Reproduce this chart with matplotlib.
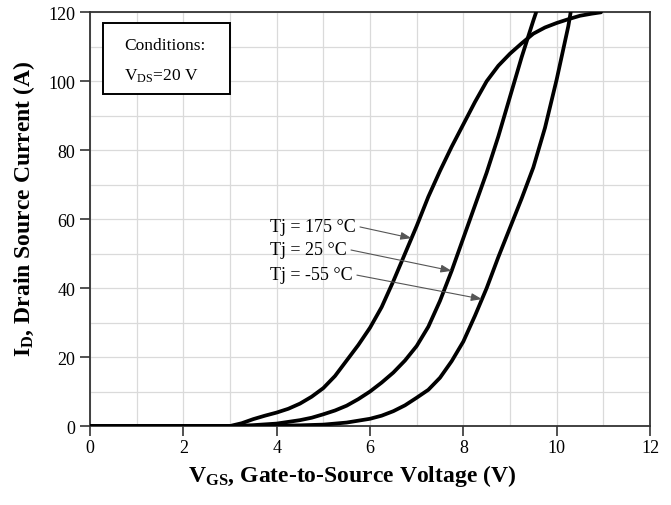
import numpy as np
import matplotlib
matplotlib.use("Agg")
import matplotlib.pyplot as plt
from matplotlib.patches import Rectangle
from matplotlib.ticker import MultipleLocator

plt.rcParams["font.family"] = ["Liberation Serif", "DejaVu Serif"]
plt.rcParams["mathtext.fontset"] = "custom"
plt.rcParams["mathtext.rm"] = "Liberation Serif"
plt.rcParams["mathtext.bf"] = "Liberation Serif:bold"
plt.rcParams["mathtext.it"] = "Liberation Serif:italic"

# Transfer characteristics: gate-source voltage (V) vs drain current (A)
vgs_175 = [0.0, 3.0, 3.25, 3.5, 3.75, 4.0, 4.25, 4.5, 4.75, 5.0, 5.25, 5.5, 5.75, 6.0,
           6.25, 6.5, 6.75, 7.0, 7.25, 7.5, 7.75, 8.0, 8.25, 8.5, 8.75, 9.0, 9.25, 9.5,
           9.75, 10.0, 10.25, 10.5, 10.75, 10.95]
id_175 = [0.0, 0.0, 0.8, 2.0, 3.0, 3.9, 5.0, 6.5, 8.5, 11.0, 14.5, 19.0, 23.5, 28.5,
          34.5, 42.0, 50.0, 58.0, 66.5, 74.0, 81.0, 87.5, 94.0, 100.0, 104.5, 108.0, 111.0,
          113.8, 115.6, 116.9, 118.0, 119.0, 119.6, 120.0]

vgs_25 = [0.0, 3.1, 3.5, 4.0, 4.5, 4.75, 5.0, 5.25, 5.5, 5.75, 6.0, 6.25, 6.5, 6.75, 7.0,
          7.25, 7.5, 7.75, 8.0, 8.25, 8.5, 8.75, 9.0, 9.25, 9.5, 9.56]
id_25 = [0.0, 0.0, 0.25, 0.7, 1.7, 2.4, 3.4, 4.5, 5.9, 7.8, 10.0, 12.6, 15.5, 19.0, 23.2,
         28.8, 36.3, 45.0, 54.5, 64.0, 73.5, 84.0, 95.5, 107.0, 117.6, 120.0]

vgs_m55 = [0.0, 3.5, 4.0, 4.5, 5.0, 5.5, 6.0, 6.25, 6.5, 6.75, 7.0, 7.25, 7.5, 7.75, 8.0,
           8.25, 8.5, 8.75, 9.0, 9.25, 9.5, 9.75, 10.0, 10.25, 10.3]
id_m55 = [0.0, 0.0, 0.1, 0.2, 0.4, 1.0, 2.1, 3.0, 4.3, 6.0, 8.2, 10.5, 14.0, 18.8, 24.5,
          32.0, 40.0, 49.0, 57.5, 66.0, 75.0, 86.5, 100.5, 116.0, 120.0]

curve_labels = ["Tj = 175 \u00b0C", "Tj = 25 \u00b0C", "Tj = -55 \u00b0C"]
label_vgs = [3.86, 3.86, 3.86]
label_id = [58.0, 51.3, 44.0]
arrow_vgs = [6.89, 7.75, 8.40]

x_ticks = [0, 2, 4, 6, 8, 10, 12]
y_ticks = [0, 20, 40, 60, 80, 100, 120]

fig = plt.figure(figsize=(6.71, 5.06), dpi=100)
ax = fig.add_axes([0.1341, 0.1561, 0.8346, 0.8176])

curves = [(vgs_175, id_175), (vgs_25, id_25), (vgs_m55, id_m55)]
for v, i in curves:
    ax.plot(v, i, color="black", lw=2.7, solid_joinstyle="round", solid_capstyle="round",
            clip_on=True, zorder=3)

ax.set_xlim(0, 12)
ax.set_ylim(0, 120)
ax.set_xticks(x_ticks)
ax.set_yticks(y_ticks)
ax.xaxis.set_minor_locator(MultipleLocator(1))
ax.yaxis.set_minor_locator(MultipleLocator(10))
ax.grid(which="both", color="#dadada", lw=0.9, zorder=0)
ax.set_axisbelow(True)
ax.tick_params(which="major", direction="out", length=7, width=1.2, color="#333333",
               labelsize=13)
ax.tick_params(axis="x", which="major", pad=2.5)
ax.tick_params(axis="y", which="major", pad=3.5)
ax.tick_params(which="minor", length=0)
for s in ax.spines.values():
    s.set_color("#333333")
    s.set_linewidth(1.3)

ax.set_xlabel(r"$\mathbf{V_{GS}}$, Gate-to-Source Voltage (V)", fontsize=17,
              fontweight="bold")
ax.set_ylabel(r"$\mathbf{I_{D}}$, Drain Source Current (A)", fontsize=17,
              fontweight="bold")
ax.xaxis.set_label_coords(0.468, -0.086)
ax.yaxis.set_label_coords(-0.095, 0.528)

# Temperature labels with leader arrows to each curve
for (v, i), txt, lx, ly, av in zip(curves, curve_labels, label_vgs, label_id, arrow_vgs):
    ay = float(np.interp(av, v, i))
    ax.annotate(txt, xy=(av, ay), xytext=(lx, ly), fontsize=13, ha="left", va="center",
                arrowprops=dict(arrowstyle="-|>,head_length=0.5,head_width=0.18",
                                color="#555555", lw=0.8, relpos=(1.0, 0.5),
                                shrinkA=1, shrinkB=0),
                zorder=4)

# Conditions box
ax.add_patch(Rectangle((0.023, 0.8025), 0.227, 0.1715, transform=ax.transAxes,
                       facecolor="white", edgecolor="black", lw=1.4, zorder=5))
ax.text(0.0607, 0.921, "Conditions:", transform=ax.transAxes, fontsize=12.5,
        ha="left", va="center", zorder=6)
ax.text(0.0607, 0.848, r"V$_{\mathrm{DS}}$=20 V", transform=ax.transAxes, fontsize=12.5,
        ha="left", va="center", zorder=6)

fig.savefig("out.png", dpi=100)
